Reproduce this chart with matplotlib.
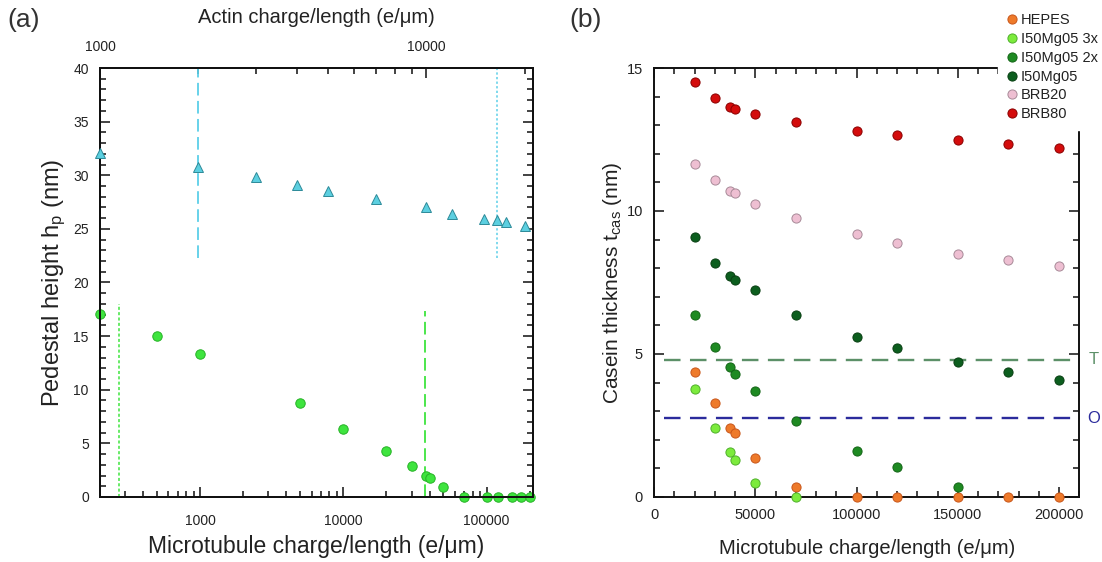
import matplotlib
matplotlib.use("Agg")
import matplotlib.pyplot as plt
from matplotlib.ticker import LogLocator, FuncFormatter, NullFormatter, MultipleLocator

plt.rcParams['font.family'] = ['Liberation Sans', 'DejaVu Sans']
plt.rcParams['mathtext.fontset'] = 'custom'
plt.rcParams['mathtext.rm'] = 'Liberation Sans'
plt.rcParams['mathtext.it'] = 'Liberation Sans'

# ---- panel (a) data ----
mt_charge = [200, 500, 1000, 5000, 10000, 20000, 30000, 37500, 40000, 50000,
             70000, 100000, 120000, 150000, 175000, 200000]
ped_mt = [17.1, 15.0, 13.3, 8.75, 6.35, 4.3, 2.9, 2.0, 1.75, 0.95,
          0, 0, 0, 0, 0, 0]
actin_charge = [1000, 2000, 3000, 4000, 5000, 7000, 10000, 12000, 15000,
                16500, 17500, 20000]
ped_actin = [32.1, 30.8, 29.8, 29.1, 28.5, 27.8, 27.0, 26.4, 25.9, 25.8,
             25.6, 25.3]
mt_lines = [270, 37000]          # green dotted / dashed (bottom axis)
mt_line_tops = [18.0, 17.3]
actin_lines = [2000, 16500]      # cyan dashed / dotted (top axis)
actin_line_bottom = 22.3

# ---- panel (b) data ----
x_b = [20000, 30000, 37500, 40000, 50000, 70000, 100000, 120000, 150000, 175000, 200000]
hepes = [4.38, 3.27, 2.41, 2.24, 1.36, 0.35, 0, 0, 0, 0, 0]
i50_3x = [3.77, 2.42, 1.56, 1.3, 0.48, 0]
i50_2x = [6.37, 5.26, 4.55, 4.31, 3.69, 2.66, 1.62, 1.04, 0.35]
i50 = [9.09, 8.18, 7.73, 7.58, 7.22, 6.35, 5.58, 5.2, 4.73, 4.37, 4.09]
brb20 = [11.66, 11.1, 10.69, 10.62, 10.26, 9.75, 9.2, 8.88, 8.51, 8.3, 8.08]
brb80 = [14.5, 13.94, 13.65, 13.58, 13.4, 13.11, 12.8, 12.64, 12.49, 12.34, 12.21]
T_level = 4.8
O_level = 2.75

fig = plt.figure(figsize=(11.02, 5.62), dpi=100)
TXT = "#222222"

# ================= panel (a) =================
ax = fig.add_axes([0.0907, 0.1157, 0.3930, 0.7633])
ax.set_xscale("log")
ax.set_xlim(200, 211000)
ax.set_ylim(0, 40)
ax.plot(mt_charge, ped_mt, "o", ms=6.8, mfc="#3ee43e", mec="#26b226", mew=0.7,
        clip_on=False, zorder=4)
ax.vlines(mt_lines[0], 0, mt_line_tops[0], colors="#3ee43e", lw=1.1,
          linestyles=(0, (2, 1.5)))
ax.vlines(mt_lines[1], 0, mt_line_tops[1], colors="#3ee43e", lw=1.3,
          linestyles=(0, (7, 3)))
ax.set_xlabel("Microtubule charge/length (e/\u03bcm)", fontsize=16.5, color=TXT, labelpad=5)
ax.set_ylabel("Pedestal height h$_{\\rm p}$ (nm)", fontsize=17, color=TXT, labelpad=4)
ax.xaxis.set_major_locator(LogLocator(base=10))
ax.xaxis.set_minor_locator(LogLocator(base=10, subs=range(2, 10)))
ax.xaxis.set_major_formatter(FuncFormatter(lambda v, p: "%d" % v))
ax.xaxis.set_minor_formatter(NullFormatter())
ax.yaxis.set_major_locator(MultipleLocator(5))
ax.yaxis.set_minor_locator(MultipleLocator(1))
ax.tick_params(which="both", direction="in", left=True, right=True, bottom=True, top=False,
               labelsize=10, colors=TXT, width=1.2)
ax.tick_params(which="major", length=7, pad=12)
ax.tick_params(which="minor", length=4)
ax.tick_params(axis="y", which="major", pad=8)

axt = ax.twiny()
axt.set_xscale("log")
axt.set_xlim(1000, 21200)
axt.plot(actin_charge, ped_actin, "^", ms=7.5, mfc="#5ccfe0", mec="#2d8a98", mew=0.7,
         clip_on=False, zorder=4)
axt.vlines(actin_lines[0], actin_line_bottom, 40, colors="#5ccfe8", lw=1.3,
           linestyles=(0, (7, 3)))
axt.vlines(actin_lines[1], actin_line_bottom, 40, colors="#5ccfe8", lw=1.1,
           linestyles=(0, (1.5, 1.5)))
axt.xaxis.set_major_locator(LogLocator(base=10))
axt.xaxis.set_minor_locator(LogLocator(base=10, subs=range(2, 10)))
axt.xaxis.set_major_formatter(FuncFormatter(lambda v, p: "%d" % v))
axt.xaxis.set_minor_formatter(NullFormatter())
axt.tick_params(which="both", direction="in", labelsize=10, colors=TXT, width=1.2)
axt.tick_params(which="major", length=7, pad=10)
axt.tick_params(which="minor", length=4)
axt.set_xlabel("Actin charge/length (e/\u03bcm)", fontsize=14.5, color=TXT, labelpad=12)
for a in (ax, axt):
    for s in a.spines.values():
        s.set_linewidth(1.4)
        s.set_color("#111111")

fig.text(0.007, 0.965, "(a)", fontsize=19, color="#333333", va="center")

# ================= panel (b) =================
bx = fig.add_axes([0.5935, 0.1157, 0.3859, 0.7633])
bx.set_xlim(0, 210000)
bx.set_ylim(0, 15)
bx.hlines(T_level, 5000, 207000, colors="#5c9068", lw=1.7, linestyles=(0, (7, 4)))
bx.hlines(O_level, 5000, 207000, colors="#2b2b9c", lw=1.7, linestyles=(0, (7, 4)))

series = [
    ("HEPES", x_b[:len(hepes)], hepes, "#ee7a2a", "#c8561a"),
    ("I50Mg05 3x", x_b[:len(i50_3x)], i50_3x, "#7ceb3c", "#4fb02a"),
    ("I50Mg05 2x", x_b[:len(i50_2x)], i50_2x, "#1e8a22", "#136516"),
    ("I50Mg05", x_b[:len(i50)], i50, "#0c5e1e", "#083f12"),
    ("BRB20", x_b[:len(brb20)], brb20, "#eebfd2", "#a88a98"),
    ("BRB80", x_b[:len(brb80)], brb80, "#d40c0c", "#8a0000"),
]
for name, xs, ys, fc, ec in series:
    bx.plot(xs, ys, "o", ms=6.6, mfc=fc, mec=ec, mew=0.7, label=name,
            clip_on=False, zorder=4)

bx.set_xlabel("Microtubule charge/length (e/\u03bcm)", fontsize=14.5, color=TXT, labelpad=12)
bx.set_ylabel("Casein thickness t$_{\\rm cas}$ (nm)", fontsize=15, color=TXT, labelpad=2)
bx.xaxis.set_major_locator(MultipleLocator(50000))
bx.xaxis.set_minor_locator(MultipleLocator(10000))
bx.yaxis.set_major_locator(MultipleLocator(5))
bx.yaxis.set_minor_locator(MultipleLocator(1))
bx.tick_params(which="both", direction="in", left=True, right=True, bottom=True, top=True,
               labelsize=10.5, colors=TXT, width=1.2)
bx.tick_params(which="major", length=7, pad=8)
bx.tick_params(which="minor", length=4)
for s in bx.spines.values():
    s.set_linewidth(1.4)
    s.set_color("#111111")

bx.text(1.035, T_level, "T", transform=bx.get_yaxis_transform(), color="#5c9068",
        fontsize=12, va="center", ha="center")
bx.text(1.035, O_level, "O", transform=bx.get_yaxis_transform(), color="#2b2b9c",
        fontsize=12, va="center", ha="center")

leg = bx.legend(loc="upper left", bbox_to_anchor=(0.906, 0.992), bbox_transform=fig.transFigure,
                frameon=True, facecolor="white", edgecolor="white", framealpha=1,
                fontsize=10.5, handlelength=0.6, handletextpad=0.35, labelspacing=0.33,
                borderpad=0.6, borderaxespad=0)
for t in leg.get_texts():
    t.set_color(TXT)

fig.text(0.517, 0.965, "(b)", fontsize=19, color="#333333", va="center")

plt.savefig("out.png", dpi=100)
